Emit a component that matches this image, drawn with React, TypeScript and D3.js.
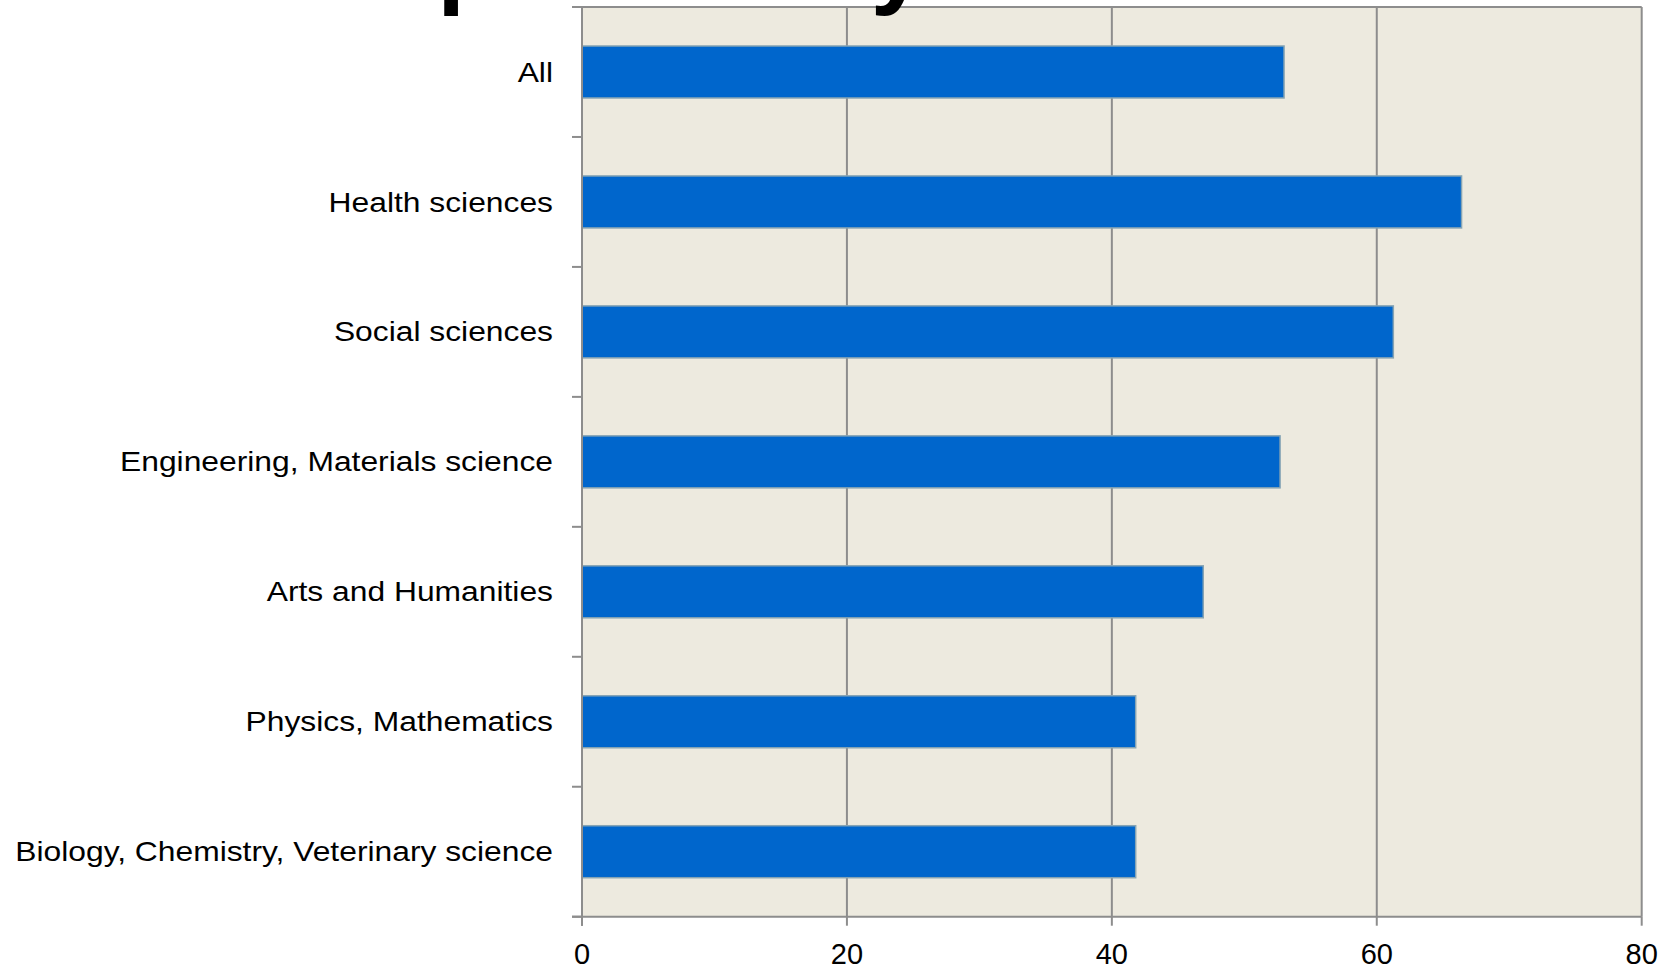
import React from "react";
import * as d3 from "d3";

const categories = [
  "All",
  "Health sciences",
  "Social sciences",
  "Engineering, Materials science",
  "Arts and Humanities",
  "Physics, Mathematics",
  "Biology, Chemistry, Veterinary science",
];
const values = [53.0, 66.4, 61.25, 52.7, 46.9, 41.8, 41.8];
const xTicks = [0, 20, 40, 60, 80];
const titleText = "Compliance by field";

const W = 1675;
const H = 970;
const M = { left: 582, right: 1641.7, top: 7, bottom: 916.7 };
const GRID = "#8d8d8d";
const FONT = "'Liberation Sans', Arial, sans-serif";

export default function App() {
  const x = d3.scaleLinear().domain([0, 80]).range([M.left, M.right]);
  const y = d3
    .scaleBand<string>()
    .domain(categories)
    .range([M.top, M.bottom])
    .paddingInner(0.6)
    .paddingOuter(0.3);
  const boundaries = d3
    .range(categories.length + 1)
    .map((i) => M.top + i * ((M.bottom - M.top) / categories.length));

  return (
    <svg
      width={W}
      height={H}
      style={{ position: "absolute", left: 0, top: 0, background: "#fff" }}
      fontFamily={FONT}
    >
      <rect x={M.left} y={M.top} width={M.right - M.left} height={M.bottom - M.top} fill="#EDEADF" />
      {xTicks.slice(1, -1).map((t) => (
        <line key={t} x1={x(t)} x2={x(t)} y1={M.top} y2={M.bottom} stroke={GRID} strokeWidth={2} />
      ))}
      <line x1={M.left - 10} x2={M.right} y1={M.top} y2={M.top} stroke={GRID} strokeWidth={2} />
      <line x1={M.right} x2={M.right} y1={M.top} y2={M.bottom} stroke={GRID} strokeWidth={2} />
      {categories.map((c, i) => (
        <rect
          key={c}
          x={x(0)}
          y={y(c)}
          width={x(values[i]) - x(0)}
          height={y.bandwidth()}
          fill="#0066CC"
          stroke="#86A4B4"
          strokeWidth={1.5}
        />
      ))}
      <line x1={M.left} x2={M.left} y1={M.top} y2={M.bottom + 9} stroke={GRID} strokeWidth={2} />
      <line x1={M.left - 10} x2={M.right} y1={M.bottom} y2={M.bottom} stroke={GRID} strokeWidth={2} />
      {boundaries.map((b, i) => (
        <line key={i} x1={M.left - 10} x2={M.left} y1={b} y2={b} stroke={GRID} strokeWidth={2} />
      ))}
      {xTicks.map((t) => (
        <g key={t}>
          <line x1={x(t)} x2={x(t)} y1={M.bottom} y2={M.bottom + 9} stroke={GRID} strokeWidth={2} />
          <text x={x(t)} y={964} textAnchor="middle" fontSize={29} fill="#000">
            {t}
          </text>
        </g>
      ))}
      {categories.map((c) => (
        <g
          key={c}
          transform={`translate(553, ${(y(c) as number) + y.bandwidth() / 2 + 9.6}) scale(1.165, 1)`}
        >
          <text x={0} y={0} textAnchor="end" fontSize={27.3} fill="#000">
            {c}
          </text>
        </g>
      ))}
      <text x={215} y={-5} fontSize={100} fontWeight="bold" fill="#000">
        {titleText}
      </text>
    </svg>
  );
}
